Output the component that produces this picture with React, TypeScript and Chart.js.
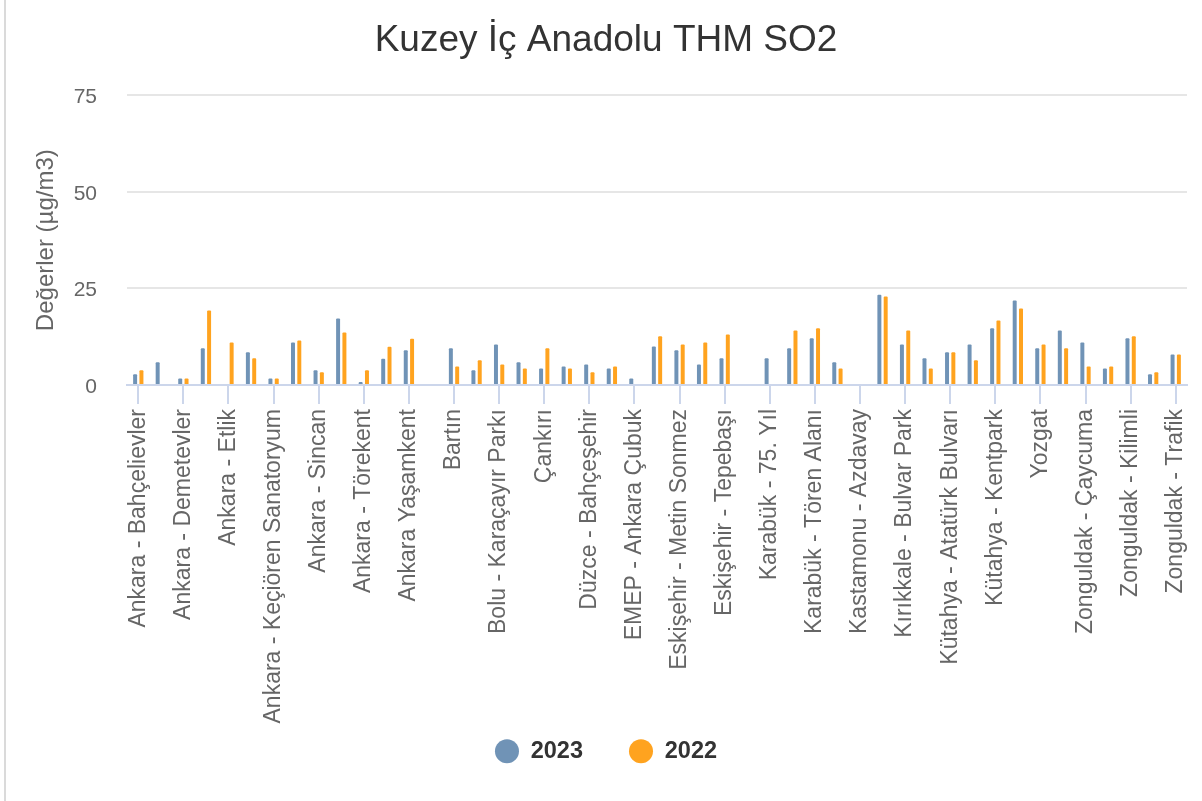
import React, { useEffect, useRef } from 'react';
import { Chart, registerables } from 'chart.js';

Chart.register(...registerables);

const chartTitle = 'Kuzey İç Anadolu THM SO2';
const yAxisTitle = 'Değerler (µg/m3)';
const seriesNames = ['2023', '2022'];

const categories = [
  'Ankara - Bahçelievler',
  'Ankara - Cebeci',
  'Ankara - Demetevler',
  'Ankara - Dikmen',
  'Ankara - Etlik',
  'Ankara - Keçiören',
  'Ankara - Keçiören Sanatoryum',
  'Ankara - Sıhhiye',
  'Ankara - Sincan',
  'Ankara - Siteler',
  'Ankara - Törekent',
  'Ankara - Yenimahalle',
  'Ankara Yaşamkent',
  'Ankara Kayaş',
  'Bartın',
  'Bolu',
  'Bolu - Karaçayır Parkı',
  'Bolu - Sanayi',
  'Çankırı',
  'Düzce',
  'Düzce - Bahçeşehir',
  'Düzce - Sanayi',
  'EMEP - Ankara Çubuk',
  'Eskişehir - Kanlıkavak',
  'Eskişehir - Metin Sonmez',
  'Eskişehir - Osmangazi',
  'Eskişehir - Tepebaşı',
  'Karabük',
  'Karabük - 75. Yıl',
  'Karabük - Kardemir',
  'Karabük - Tören Alanı',
  'Kastamonu',
  'Kastamonu - Azdavay',
  'Kırıkkale',
  'Kırıkkale - Bulvar Park',
  'Kırşehir',
  'Kütahya - Atatürk Bulvarı',
  'Kütahya - Gediz',
  'Kütahya - Kentpark',
  'Kütahya - Tavşanlı',
  'Yozgat',
  'Zonguldak',
  'Zonguldak - Çaycuma',
  'Zonguldak - Ereğli',
  'Zonguldak - Kilimli',
  'Zonguldak - Kozlu',
  'Zonguldak - Trafik',
];

const values2023: (number | null)[] = [
  2.8, 5.9, 1.7, 9.5, null, 8.5, 1.7, 11.0, 3.8, 17.2,
  0.8, 6.8, 9.0, null, 9.5, 3.8, 10.5, 5.9, 4.3, 4.8,
  5.3, 4.3, 1.7, 10.0, 9.0, 5.3, 6.9, null, 6.9, 9.5,
  12.1, 5.9, null, 23.4, 10.5, 6.9, 8.5, 10.5, 14.7, 21.9,
  9.5, 14.1, 11.0, 4.3, 12.1, 2.8, 7.9,
];

const values2022: (number | null)[] = [
  3.8, null, 1.7, 19.3, 11.0, 6.9, 1.7, 11.5, 3.3, 13.6,
  3.8, 9.9, 12.0, null, 4.8, 6.4, 5.3, 4.3, 9.5, 4.3,
  3.3, 4.8, null, 12.6, 10.5, 11.0, 13.1, null, null, 14.1,
  14.7, 4.3, null, 22.9, 14.1, 4.3, 8.5, 6.4, 16.7, 19.8,
  10.5, 9.5, 4.8, 4.8, 12.6, 3.3, 7.9,
];

const yMin = 0;
const yMax = 75;
const yStep = 25;

const FONT = '"Liberation Sans", Arial, Helvetica, sans-serif';
const BLUE = '#7093b6';
const ORANGE = '#ffa31f';

// lets the rotated category labels run below the x-scale box (no clipping)
const unclipLabels = {
  id: 'unclipLabels',
  afterLayout(chart: any) {
    if (chart.scales && chart.scales.x) chart.scales.x.bottom = chart.height;
  },
};

export default function App() {
  const canvasRef = useRef<HTMLCanvasElement | null>(null);

  useEffect(() => {
    if (!canvasRef.current) return;
    const chart = new Chart(canvasRef.current, {
      type: 'bar',
      data: {
        labels: categories,
        datasets: [
          {
            label: seriesNames[0],
            data: values2023,
            backgroundColor: BLUE,
            borderColor: BLUE,
            borderWidth: 0,
            borderRadius: 1,
            barPercentage: 0.63,
            categoryPercentage: 0.56,
          },
          {
            label: seriesNames[1],
            data: values2022,
            backgroundColor: ORANGE,
            borderColor: ORANGE,
            borderWidth: 0,
            borderRadius: 1,
            barPercentage: 0.63,
            categoryPercentage: 0.56,
          },
        ],
      },
      plugins: [unclipLabels],
      options: {
        responsive: false,
        animation: false,
        layout: { padding: { left: 25, right: 15, top: 0, bottom: 28 } },
        plugins: {
          title: {
            display: true,
            text: chartTitle,
            color: '#333333',
            font: { family: FONT, size: 37, weight: 'normal' },
            padding: { top: 19, bottom: 32 },
          },
          legend: {
            position: 'bottom',
            labels: {
              usePointStyle: true,
              pointStyle: 'circle',
              boxHeight: 17,
              pointStyleWidth: 24,
              padding: 46,
              color: '#333333',
              font: { family: FONT, size: 23.5, weight: 'bold' },
            },
          },
          tooltip: { enabled: false },
        },
        scales: {
          x: {
            type: 'category',
            offset: true,
            grid: {
              display: true,
              drawOnChartArea: false,
              drawTicks: true,
              tickLength: 19,
              color: '#ccd6eb',
              lineWidth: 2,
              offset: false,
            },
            border: { display: true, color: '#ccd6eb', width: 2 },
            ticks: {
              autoSkip: false,
              maxRotation: 90,
              minRotation: 90,
              padding: 5,
              color: '#666666',
              font: { family: FONT, size: 23 },
              callback: (_v: any, i: number) => (i % 2 === 0 ? categories[i] : null),
            },
            afterFit: (s: any) => {
              s.height = 308.5;
              s.paddingLeft = 0;
              s.paddingRight = 0;
            },
          },
          y: {
            min: yMin,
            max: yMax,
            ticks: {
              stepSize: yStep,
              padding: 30,
              labelOffset: 2,
              color: '#666666',
              font: { family: FONT, size: 21 },
            },
            grid: {
              color: (ctx: any) => (ctx.tick && ctx.tick.value === 0 ? 'rgba(0,0,0,0)' : '#e6e6e6'),
              lineWidth: 2,
              drawTicks: false,
            },
            border: { display: false },
            title: {
              display: true,
              text: yAxisTitle,
              color: '#666666',
              font: { family: FONT, size: 24 },
              padding: { top: 7, bottom: 0 },
            },
            afterFit: (s: any) => {
              s.width = 102;
            },
          },
        },
      },
    } as any);
    return () => chart.destroy();
  }, []);

  return (
    <div style={{ position: 'fixed', left: 0, top: 0, width: 1202, height: 801, background: '#ffffff' }}>
      <canvas ref={canvasRef} width={1202} height={801} style={{ position: 'absolute', left: 0, top: 0, width: 1202, height: 801 }} />
      <div style={{ position: 'absolute', left: 4, top: 0, width: 2, height: 801, background: '#dadada' }} />
    </div>
  );
}
